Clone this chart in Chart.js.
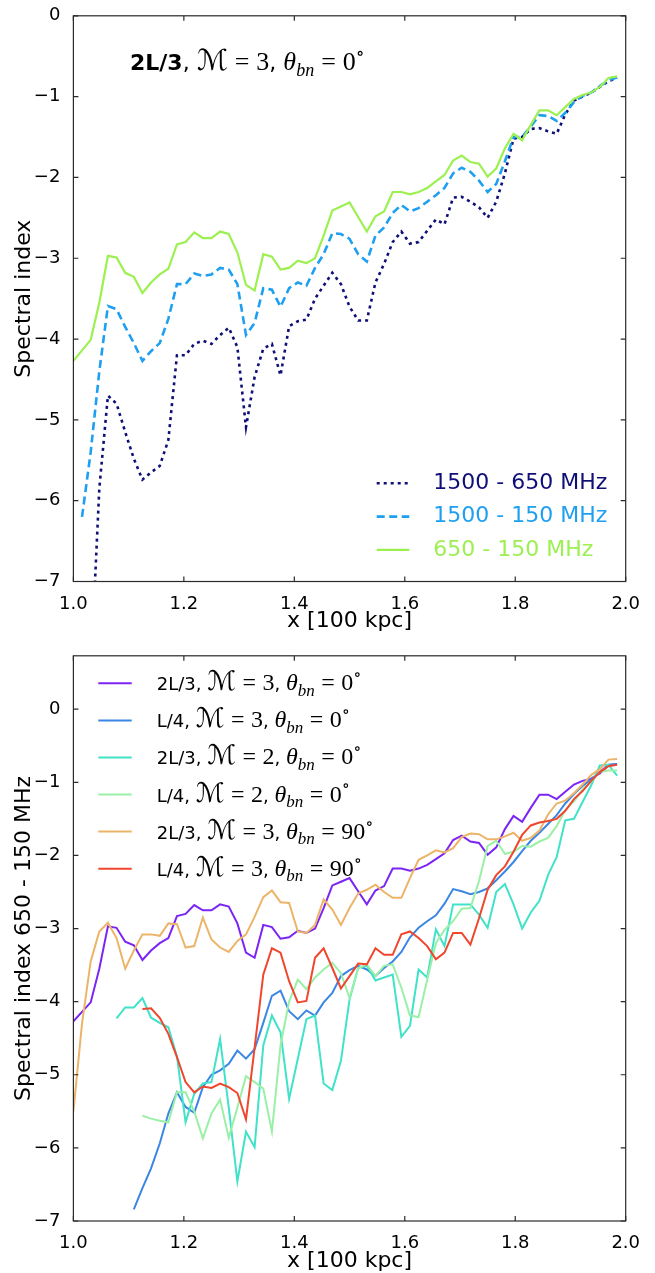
<!DOCTYPE html>
<html><head><meta charset="utf-8">
<script src="https://cdn.jsdelivr.net/npm/chart.js@4.4.1/dist/chart.umd.min.js"></script>
<style>
html,body{margin:0;padding:0;background:#fff;}
#c1{position:absolute;left:0;top:0;}
#c2{position:absolute;left:0;top:640px;}
</style></head><body>
<canvas id="c1" width="655" height="640"></canvas>
<canvas id="c2" width="655" height="633"></canvas>
<script>
// ---------------- data ----------------
const xValues = [
 1.0000,1.0156,1.0313,1.0469,1.0625,1.0781,1.0938,1.1094,
 1.1250,1.1406,1.1563,1.1719,1.1875,1.2031,1.2188,1.2344,
 1.2500,1.2656,1.2813,1.2969,1.3125,1.3281,1.3438,1.3594,
 1.3750,1.3906,1.4063,1.4219,1.4375,1.4531,1.4688,1.4844,
 1.5000,1.5156,1.5313,1.5469,1.5625,1.5781,1.5938,1.6094,
 1.6250,1.6406,1.6563,1.6719,1.6875,1.7031,1.7188,1.7344,
 1.7500,1.7656,1.7813,1.7969,1.8125,1.8281,1.8438,1.8594,
 1.8750,1.8906,1.9063,1.9219,1.9375,1.9531,1.9688,1.9844];

const xTicks = [1.0, 1.2, 1.4, 1.6, 1.8, 2.0];
const topYTicks = [0, -1, -2, -3, -4, -5, -6, -7];
const bottomYTicks = [0, -1, -2, -3, -4, -5, -6, -7];

// top panel: 2L/3, M=3, theta=0
const topLabels = ['1500 - 650 MHz', '1500 - 150 MHz', '650 - 150 MHz'];
const si1500_650 = [
 null,null,-8.15,-5.85,-4.70,-4.80,-5.15,-5.48,
 -5.74,-5.65,-5.57,-5.25,-4.20,-4.20,-4.06,-4.02,
 -4.06,-3.95,-3.86,-4.10,-5.09,-4.47,-4.12,-4.06,
 -4.45,-3.84,-3.78,-3.76,-3.50,-3.34,-3.18,-3.32,
 -3.60,-3.77,-3.77,-3.30,-3.07,-2.80,-2.67,-2.82,
 -2.80,-2.66,-2.52,-2.58,-2.25,-2.24,-2.30,-2.37,
 -2.50,-2.30,-1.95,-1.52,-1.50,-1.40,-1.39,-1.43,
 -1.46,-1.22,-1.05,-1.00,-0.95,-0.88,-0.81,-0.77];
const si1500_150 = [
 null,-6.20,-5.40,-4.40,-3.59,-3.63,-3.85,-4.05,
 -4.27,-4.15,-4.05,-3.75,-3.32,-3.32,-3.19,-3.22,
 -3.20,-3.12,-3.14,-3.32,-3.95,-3.80,-3.37,-3.39,
 -3.60,-3.37,-3.30,-3.34,-3.12,-2.95,-2.69,-2.70,
 -2.76,-2.95,-3.04,-2.72,-2.62,-2.44,-2.34,-2.42,
 -2.38,-2.30,-2.22,-2.13,-1.95,-1.88,-1.93,-2.04,
 -2.18,-2.08,-1.80,-1.50,-1.50,-1.37,-1.23,-1.24,
 -1.30,-1.20,-1.07,-0.99,-0.95,-0.87,-0.80,-0.76];
const si650_150 = [
 -4.27,-4.14,-4.01,-3.55,-2.97,-2.99,-3.18,-3.23,
 -3.43,-3.30,-3.20,-3.13,-2.83,-2.80,-2.68,-2.75,
 -2.75,-2.67,-2.70,-2.93,-3.33,-3.40,-2.95,-2.98,
 -3.14,-3.12,-3.03,-3.06,-3.00,-2.72,-2.41,-2.36,
 -2.31,-2.49,-2.67,-2.48,-2.42,-2.18,-2.18,-2.21,
 -2.18,-2.13,-2.05,-1.97,-1.79,-1.73,-1.81,-1.83,
 -1.99,-1.89,-1.64,-1.46,-1.54,-1.35,-1.17,-1.17,
 -1.23,-1.13,-1.03,-0.98,-0.95,-0.88,-0.77,-0.75];

// bottom panel: spectral index 650 - 150 MHz
const runPrefix = ['2L/3', 'L/4', '2L/3', 'L/4', '2L/3', 'L/4'];
const runMach = [3, 3, 2, 2, 3, 3];
const runTheta = [0, 0, 0, 0, 90, 90];
const s_2L3_M3_t0 = si650_150;
const s_L4_M3_t0 = [
 null,null,null,null,null,null,null,-6.84,
 -6.55,-6.28,-5.94,-5.53,-5.24,-5.44,-5.52,-5.17,
 -5.00,-4.94,-4.85,-4.67,-4.78,-4.65,-4.29,-3.92,
 -3.85,-4.13,-4.24,-4.12,-4.19,-4.01,-3.88,-3.65,
 -3.57,-3.51,-3.56,-3.65,-3.54,-3.45,-3.32,-3.12,
 -2.99,-2.90,-2.82,-2.66,-2.46,-2.49,-2.53,-2.50,
 -2.45,-2.34,-2.22,-2.09,-1.94,-1.80,-1.69,-1.57,
 -1.45,-1.29,-1.16,-1.05,-0.96,-0.86,-0.76,-0.75];
const s_2L3_M2_t0 = [
 null,null,null,null,null,-4.23,-4.08,-4.08,
 -3.95,-4.22,-4.29,-4.35,-4.75,-5.65,-5.26,-5.12,
 -5.10,-4.51,-5.45,-6.46,-5.78,-5.99,-4.60,-4.19,
 -4.42,-5.33,-4.78,-4.24,-4.19,-5.12,-5.21,-4.81,
 -3.97,-3.54,-3.51,-3.71,-3.67,-3.63,-4.48,-4.33,
 -3.56,-3.67,-3.01,-3.24,-2.67,-2.67,-2.67,-2.81,
 -2.99,-2.50,-2.39,-2.67,-3.00,-2.78,-2.62,-2.27,
 -2.02,-1.52,-1.50,-1.27,-1.04,-0.77,-0.76,-0.91];
const s_L4_M2_t0 = [
 null,null,null,null,null,null,null,null,
 -5.56,-5.60,-5.63,-5.65,-5.24,-5.24,-5.50,-5.87,
 -5.53,-5.34,-5.86,-5.45,-5.02,-5.10,-5.19,-5.78,
 -4.60,-4.00,-3.70,-3.83,-3.67,-3.56,-3.47,-3.61,
 -3.95,-3.54,-3.49,-3.65,-3.51,-3.49,-3.81,-4.19,
 -4.21,-3.70,-3.20,-3.02,-2.90,-2.73,-2.72,-2.35,
 -1.87,-1.80,-1.98,-1.95,-1.87,-1.88,-1.81,-1.76,
 -1.60,-1.38,-1.26,-1.10,-0.99,-0.86,-0.84,-0.84];
const s_2L3_M3_t90 = [
 -5.50,-4.30,-3.45,-3.04,-2.92,-3.13,-3.55,-3.30,
 -3.08,-3.08,-3.10,-2.93,-2.94,-3.26,-3.24,-2.85,
 -3.15,-3.26,-3.32,-3.17,-3.08,-2.84,-2.57,-2.48,
 -2.64,-2.65,-3.04,-3.06,-2.95,-2.60,-2.74,-2.95,
 -2.72,-2.52,-2.47,-2.40,-2.50,-2.58,-2.58,-2.31,
 -2.06,-2.00,-1.93,-1.96,-1.90,-1.75,-1.70,-1.71,
 -1.78,-1.78,-1.74,-1.69,-1.80,-1.76,-1.66,-1.44,
 -1.29,-1.25,-1.15,-1.03,-0.90,-0.82,-0.69,-0.68];
const s_L4_M3_t90 = [
 null,null,null,null,null,null,null,null,
 -4.10,-4.09,-4.22,-4.44,-4.76,-5.10,-5.24,-5.16,
 -5.18,-5.12,-5.17,-5.25,-5.61,-4.63,-3.63,-3.27,
 -3.33,-3.72,-4.01,-3.99,-3.40,-3.27,-3.54,-3.82,
 -3.65,-3.48,-3.49,-3.27,-3.36,-3.36,-3.08,-3.04,
 -3.13,-3.24,-3.42,-3.33,-3.06,-3.06,-3.22,-2.86,
 -2.47,-2.27,-2.15,-1.95,-1.72,-1.59,-1.55,-1.53,
 -1.50,-1.39,-1.23,-1.12,-0.98,-0.86,-0.78,-0.76];

// ---------------- helpers ----------------
const SANS = '"DejaVu Sans", sans-serif';
const pts = arr => xValues.map((x, i) => ({x: x, y: arr[i]}));
const fmtY = v => (v < 0 ? '\u2212' + Math.abs(v) : String(v));

function drawRich(ctx, x, y, segs) {
  let cx = x;
  ctx.textAlign = 'left';
  ctx.textBaseline = 'alphabetic';
  for (const s of segs) {
    if (s.gap !== undefined) { cx += s.gap; continue; }
    ctx.font = s.f;
    ctx.fillText(s.t, cx, y + (s.dy || 0));
    cx += ctx.measureText(s.t).width;
  }
}
function mathSegs(prefix, m, t, sans, math, bold) {
  const fs = sans + 'px ' + SANS;
  const serif = math + 'px "Liberation Serif", serif';
  const ital = 'italic ' + math + 'px "Liberation Serif", serif';
  const sub = 'italic ' + Math.round(math * 0.7) + 'px "Liberation Serif", serif';
  const sup = Math.round(math * 0.7) + 'px "DejaVu Serif", serif';
  const script = Math.round(math * 1.12) + 'px "DejaVu Serif", "DejaVu Sans", serif';
  const g = math * 0.27;
  return [
    {t: prefix, f: (bold ? 'bold ' : '') + fs},
    {t: ', ', f: fs},
    {t: '\u2133', f: script},
    {gap: g}, {t: '=', f: serif}, {gap: g},
    {t: String(m), f: serif},
    {t: ', ', f: fs},
    {t: '\u03B8', f: ital},
    {t: 'bn', f: sub, dy: math * 0.22},
    {gap: g}, {t: '=', f: serif}, {gap: g},
    {t: String(t), f: serif},
    {t: '\u2218', f: sup, dy: -math * 0.42}
  ];
}

const frameTicks = {
  id: 'frameTicks',
  afterDatasetsDraw(chart) {
    const {ctx, chartArea: a, scales} = chart;
    ctx.save();
    ctx.strokeStyle = '#2a2a2a';
    ctx.lineWidth = 1.2;
    ctx.setLineDash([]);
    ctx.strokeRect(a.left, a.top, a.right - a.left, a.bottom - a.top);
    ctx.beginPath();
    const L = 5;
    scales.x.ticks.forEach(t => {
      const p = scales.x.getPixelForValue(t.value);
      ctx.moveTo(p, a.bottom); ctx.lineTo(p, a.bottom - L);
      ctx.moveTo(p, a.top); ctx.lineTo(p, a.top + L);
    });
    scales.y.ticks.forEach(t => {
      const p = scales.y.getPixelForValue(t.value);
      ctx.moveTo(a.left, p); ctx.lineTo(a.left + L, p);
      ctx.moveTo(a.right, p); ctx.lineTo(a.right - L, p);
    });
    ctx.stroke();
    ctx.restore();
  }
};

function makeOptions(cfg) {
  return {
    responsive: false,
    animation: false,
    devicePixelRatio: 1,
    layout: {padding: {left: 0, top: cfg.padTop, right: 29.3, bottom: 0}},
    plugins: {legend: {display: false}, tooltip: {enabled: false}},
    elements: {point: {radius: 0}, line: {tension: 0}},
    scales: {
      x: {
        type: 'linear', min: 1, max: 2,
        grid: {display: false}, border: {display: false},
        afterBuildTicks: s => { s.ticks = xTicks.map(v => ({value: v})); },
        afterFit: s => { s.height = cfg.xAxisH; },
        ticks: {autoSkip: false, maxRotation: 0, padding: 4, color: '#000',
                font: {family: SANS, size: 18}, callback: v => Number(v).toFixed(1)},
        title: {display: true, text: 'x [100 kpc]', color: '#000',
                font: {family: SANS, size: 22, lineHeight: 1},
                padding: {top: 0, bottom: cfg.xTitlePad}}
      },
      y: {
        type: 'linear', min: -7, max: cfg.yMax,
        grid: {display: false}, border: {display: false},
        afterBuildTicks: s => { s.ticks = cfg.yTicks.map(v => ({value: v})); },
        afterFit: s => { s.width = 73.4; },
        ticks: {padding: 5, color: '#000', font: {family: SANS, size: 18}, callback: fmtY},
        title: {display: true, text: cfg.yTitle, color: '#000',
                font: {family: SANS, size: 22, lineHeight: 1},
                padding: {top: 13, bottom: 0}}
      }
    }
  };
}

// ---------------- top chart ----------------
const topColors = ['#0f0f78', '#1e9ff0', '#9cf050'];
const topSeries = [si1500_650, si1500_150, si650_150];
const topDash = [[3, 4], [8, 4.5], []];
const topWidth = [2.6, 2.6, 2.2];

const topExtras = {
  id: 'topExtras',
  afterDraw(chart) {
    const ctx = chart.ctx;
    ctx.save();
    ctx.fillStyle = '#000';
    drawRich(ctx, 130, 70, mathSegs('2L/3', 3, 0, 22, 26, true));
    chart.data.datasets.forEach((ds, i) => {
      const yc = 483.3 + i * 33.3;
      ctx.strokeStyle = ds.borderColor;
      ctx.lineWidth = ds.borderWidth;
      ctx.setLineDash(ds.borderDash || []);
      ctx.beginPath(); ctx.moveTo(376.7, yc); ctx.lineTo(409.3, yc); ctx.stroke();
      ctx.setLineDash([]);
      ctx.fillStyle = ds.borderColor;
      ctx.font = '22px ' + SANS;
      ctx.textAlign = 'left';
      ctx.textBaseline = 'middle';
      ctx.fillText(ds.label, 433.3, yc);
    });
    ctx.restore();
  }
};

new Chart(document.getElementById('c1'), {
  type: 'line',
  data: {
    datasets: topSeries.map((arr, i) => ({
      label: topLabels[i], data: pts(arr),
      borderColor: topColors[i], backgroundColor: topColors[i],
      borderWidth: topWidth[i], borderDash: topDash[i],
      fill: false, order: topSeries.length - i
    }))
  },
  options: makeOptions({padTop: 13.4, xAxisH: 58.5, xTitlePad: 7.5, yMax: 0,
                        yTicks: topYTicks, yTitle: 'Spectral index'}),
  plugins: [frameTicks, topExtras]
});

// ---------------- bottom chart ----------------
const botColors = ['#7b24f4', '#3a86e4', '#40e2c8', '#9af0a6', '#ecb468', '#f0462e'];
const botSeries = [s_2L3_M3_t0, s_L4_M3_t0, s_2L3_M2_t0, s_L4_M2_t0, s_2L3_M3_t90, s_L4_M3_t90];

const botExtras = {
  id: 'botExtras',
  afterDraw(chart) {
    const ctx = chart.ctx;
    ctx.save();
    chart.data.datasets.forEach((ds, i) => {
      const yc = 43.3 + i * 37.08;
      ctx.strokeStyle = ds.borderColor;
      ctx.lineWidth = ds.borderWidth;
      ctx.setLineDash([]);
      ctx.beginPath(); ctx.moveTo(98.3, yc); ctx.lineTo(131.7, yc); ctx.stroke();
      ctx.fillStyle = '#000';
      drawRich(ctx, 156.7, yc + 7, mathSegs(runPrefix[i], runMach[i], runTheta[i], 18, 24, false));
    });
    ctx.restore();
  }
};

new Chart(document.getElementById('c2'), {
  type: 'line',
  data: {
    datasets: botSeries.map((arr, i) => ({
      label: runPrefix[i] + ', \u2133=' + runMach[i] + ', \u03B8bn=' + runTheta[i] + '\u00B0',
      data: pts(arr),
      borderColor: botColors[i], backgroundColor: botColors[i],
      borderWidth: 2, fill: false, order: botSeries.length - i
    }))
  },
  options: makeOptions({padTop: 13.3, xAxisH: 52, xTitlePad: 1, yMax: 0.73,
                        yTicks: bottomYTicks, yTitle: 'Spectral index 650 - 150 MHz'}),
  plugins: [frameTicks, botExtras]
});
</script>
</body></html>
